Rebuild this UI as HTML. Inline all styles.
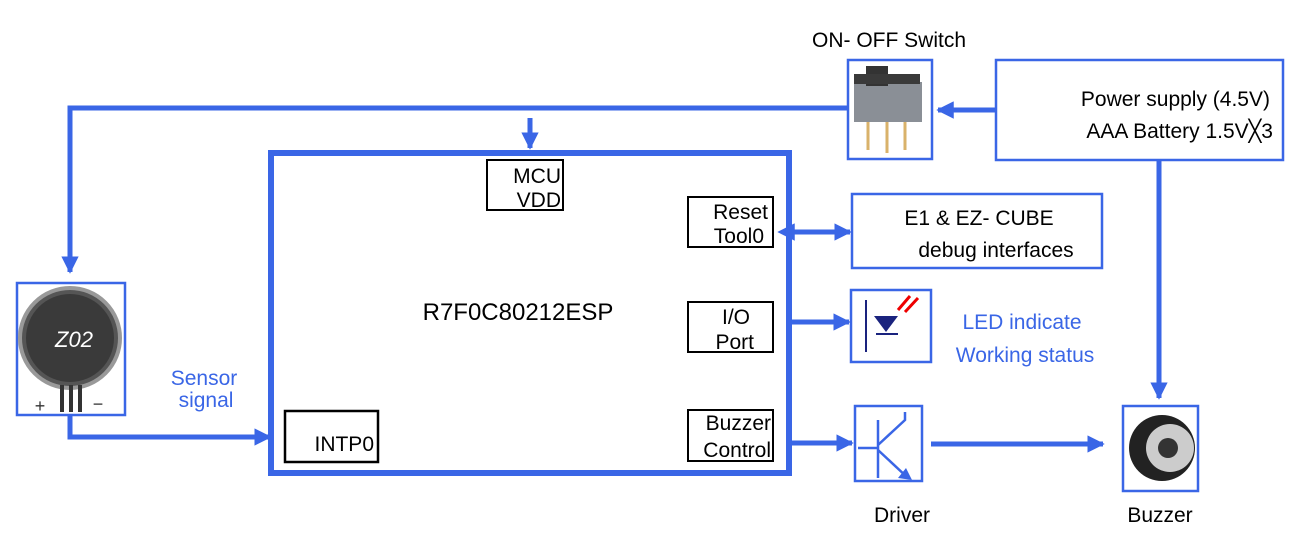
<!DOCTYPE html>
<html><head><meta charset="utf-8"><style>
html,body{margin:0;padding:0;background:#fff;}
svg{display:block;font-family:"Liberation Sans",Arial,sans-serif;}
</style></head><body>
<svg width="1297" height="546" viewBox="0 0 1297 546" xmlns="http://www.w3.org/2000/svg">
<defs>
<marker id="ah" viewBox="0 0 10 10" refX="9" refY="5" markerWidth="3.5" markerHeight="3.5" orient="auto" markerUnits="strokeWidth"><path d="M0,0 L10,5 L0,10 z" fill="#3a66e6"/></marker>
<marker id="ahs" viewBox="0 0 10 10" refX="1" refY="5" markerWidth="3.5" markerHeight="3.5" orient="auto-start-reverse" markerUnits="strokeWidth"><path d="M0,0 L10,5 L0,10 z" fill="#3a66e6"/></marker>
</defs>
<g fill="none" stroke="#3a66e6">
<rect x="271" y="153" width="518" height="320" stroke-width="6"/>
<polyline points="848,108 70,108 70,272" stroke-width="5" marker-end="url(#ah)"/>
<line x1="996" y1="110" x2="938" y2="110" stroke-width="5" marker-end="url(#ah)"/>
<line x1="530" y1="118" x2="530" y2="148" stroke-width="5" marker-end="url(#ah)"/>
<line x1="1159" y1="160" x2="1159" y2="398" stroke-width="5" marker-end="url(#ah)"/>
<polyline points="70,415 70,437 270,437" stroke-width="5" marker-end="url(#ah)"/>
<line x1="793" y1="232" x2="850" y2="232" stroke-width="5" marker-start="url(#ahs)" marker-end="url(#ah)"/>
<line x1="790" y1="322" x2="849" y2="322" stroke-width="5" marker-end="url(#ah)"/>
<line x1="790" y1="443" x2="852" y2="443" stroke-width="5" marker-end="url(#ah)"/>
<line x1="931" y1="444" x2="1103" y2="444" stroke-width="5" marker-end="url(#ah)"/>
<rect x="848" y="60" width="84" height="99" stroke-width="2.5"/>
<rect x="996" y="60" width="287" height="100" stroke-width="2.5"/>
<rect x="852" y="194" width="250" height="74" stroke-width="2.5"/>
<rect x="851" y="290" width="80" height="72" stroke-width="2.5"/>
<rect x="855" y="406" width="67" height="75" stroke-width="2.5"/>
<rect x="1123" y="406" width="75" height="85" stroke-width="2.5"/>
<rect x="17" y="283" width="108" height="132" stroke-width="2.5"/>
</g>
<g fill="#fff" stroke="#000" stroke-width="2">
<rect x="487" y="160" width="76" height="50"/>
<rect x="688" y="197" width="85" height="50"/>
<rect x="688" y="302" width="85" height="50"/>
<rect x="688" y="410" width="85" height="51"/>
<rect x="285" y="411" width="93" height="51" stroke-width="2.5"/>
</g>
<g font-size="21" fill="#000" text-anchor="end">
<text x="561" y="183">MCU</text><text x="561" y="207">VDD</text>
<text x="768" y="219">Reset</text><text x="764" y="243">Tool0</text>
<text x="750" y="324">I/O</text><text x="754" y="349">Port</text>
<text x="771" y="430">Buzzer</text><text x="771" y="457">Control</text>
<text x="374" y="451">INTP0</text>
</g>
<text x="518" y="320" font-size="24" text-anchor="middle">R7F0C80212ESP</text>
<g font-size="21" fill="#000">
<text x="812" y="47">ON-  OFF Switch</text>
<text x="1270" y="106" text-anchor="end">Power supply (4.5V)</text>
<text x="1273" y="138" text-anchor="end">AAA  Battery 1.5V╳3</text>
<text x="979" y="225" text-anchor="middle">E1 &amp; EZ-  CUBE</text>
<text x="996" y="257" text-anchor="middle">debug interfaces</text>
<text x="902" y="522" text-anchor="middle">Driver</text>
<text x="1160" y="522" text-anchor="middle">Buzzer</text>
</g>
<g font-size="21" fill="#3a66e6" text-anchor="middle">
<text x="1022" y="329">LED indicate</text>
<text x="1025" y="362">Working status</text>
<text x="204" y="385">Sensor</text>
<text x="206" y="407">signal</text>
</g>
<rect x="854" y="82" width="68" height="40" fill="#8a8f96"/>
<rect x="866" y="66" width="22" height="20" fill="#333"/>
<rect x="854" y="74" width="66" height="10" fill="#3a3a3a"/>
<g stroke="#d9b26a" stroke-width="3"><line x1="868" y1="122" x2="868" y2="150"/><line x1="887" y1="122" x2="887" y2="153"/><line x1="905" y1="122" x2="905" y2="150"/></g>
<circle cx="70" cy="338" r="50" fill="#555" stroke="#999" stroke-width="4"/>
<circle cx="70" cy="338" r="44" fill="#3a3a3a"/>
<text x="74" y="347" font-size="22" font-style="italic" fill="#fff" text-anchor="middle">Z02</text>
<g stroke="#333" stroke-width="4"><line x1="62" y1="385" x2="62" y2="412"/><line x1="71" y1="385" x2="71" y2="412"/><line x1="80" y1="385" x2="80" y2="412"/></g>
<text x="40" y="412" font-size="18" fill="#333" text-anchor="middle">+</text>
<text x="98" y="410" font-size="18" fill="#333" text-anchor="middle">−</text>
<line x1="866" y1="300" x2="866" y2="352" stroke="#1a237e" stroke-width="2"/>
<path d="M874,316 L898,316 L886,332 z" fill="#1a237e"/>
<line x1="876" y1="334" x2="898" y2="334" stroke="#1a237e" stroke-width="2"/>
<path d="M898,310 L910,296 M905,312 L918,298" stroke="#e00" stroke-width="3"/>
<g stroke="#3a66e6" stroke-width="2.5" fill="none">
<line x1="858" y1="448" x2="878" y2="448"/><line x1="878" y1="420" x2="878" y2="478"/>
<polyline points="905,412 905,420 878,445"/><line x1="878" y1="450" x2="908" y2="478"/>
</g>
<path d="M912,480 L898,478 L906,468 z" fill="#3a66e6"/>
<circle cx="1162" cy="448" r="33" fill="#222"/>
<circle cx="1170" cy="448" r="24" fill="#ccc"/>
<circle cx="1168" cy="448" r="10" fill="#333"/>
</svg>
</body></html>
